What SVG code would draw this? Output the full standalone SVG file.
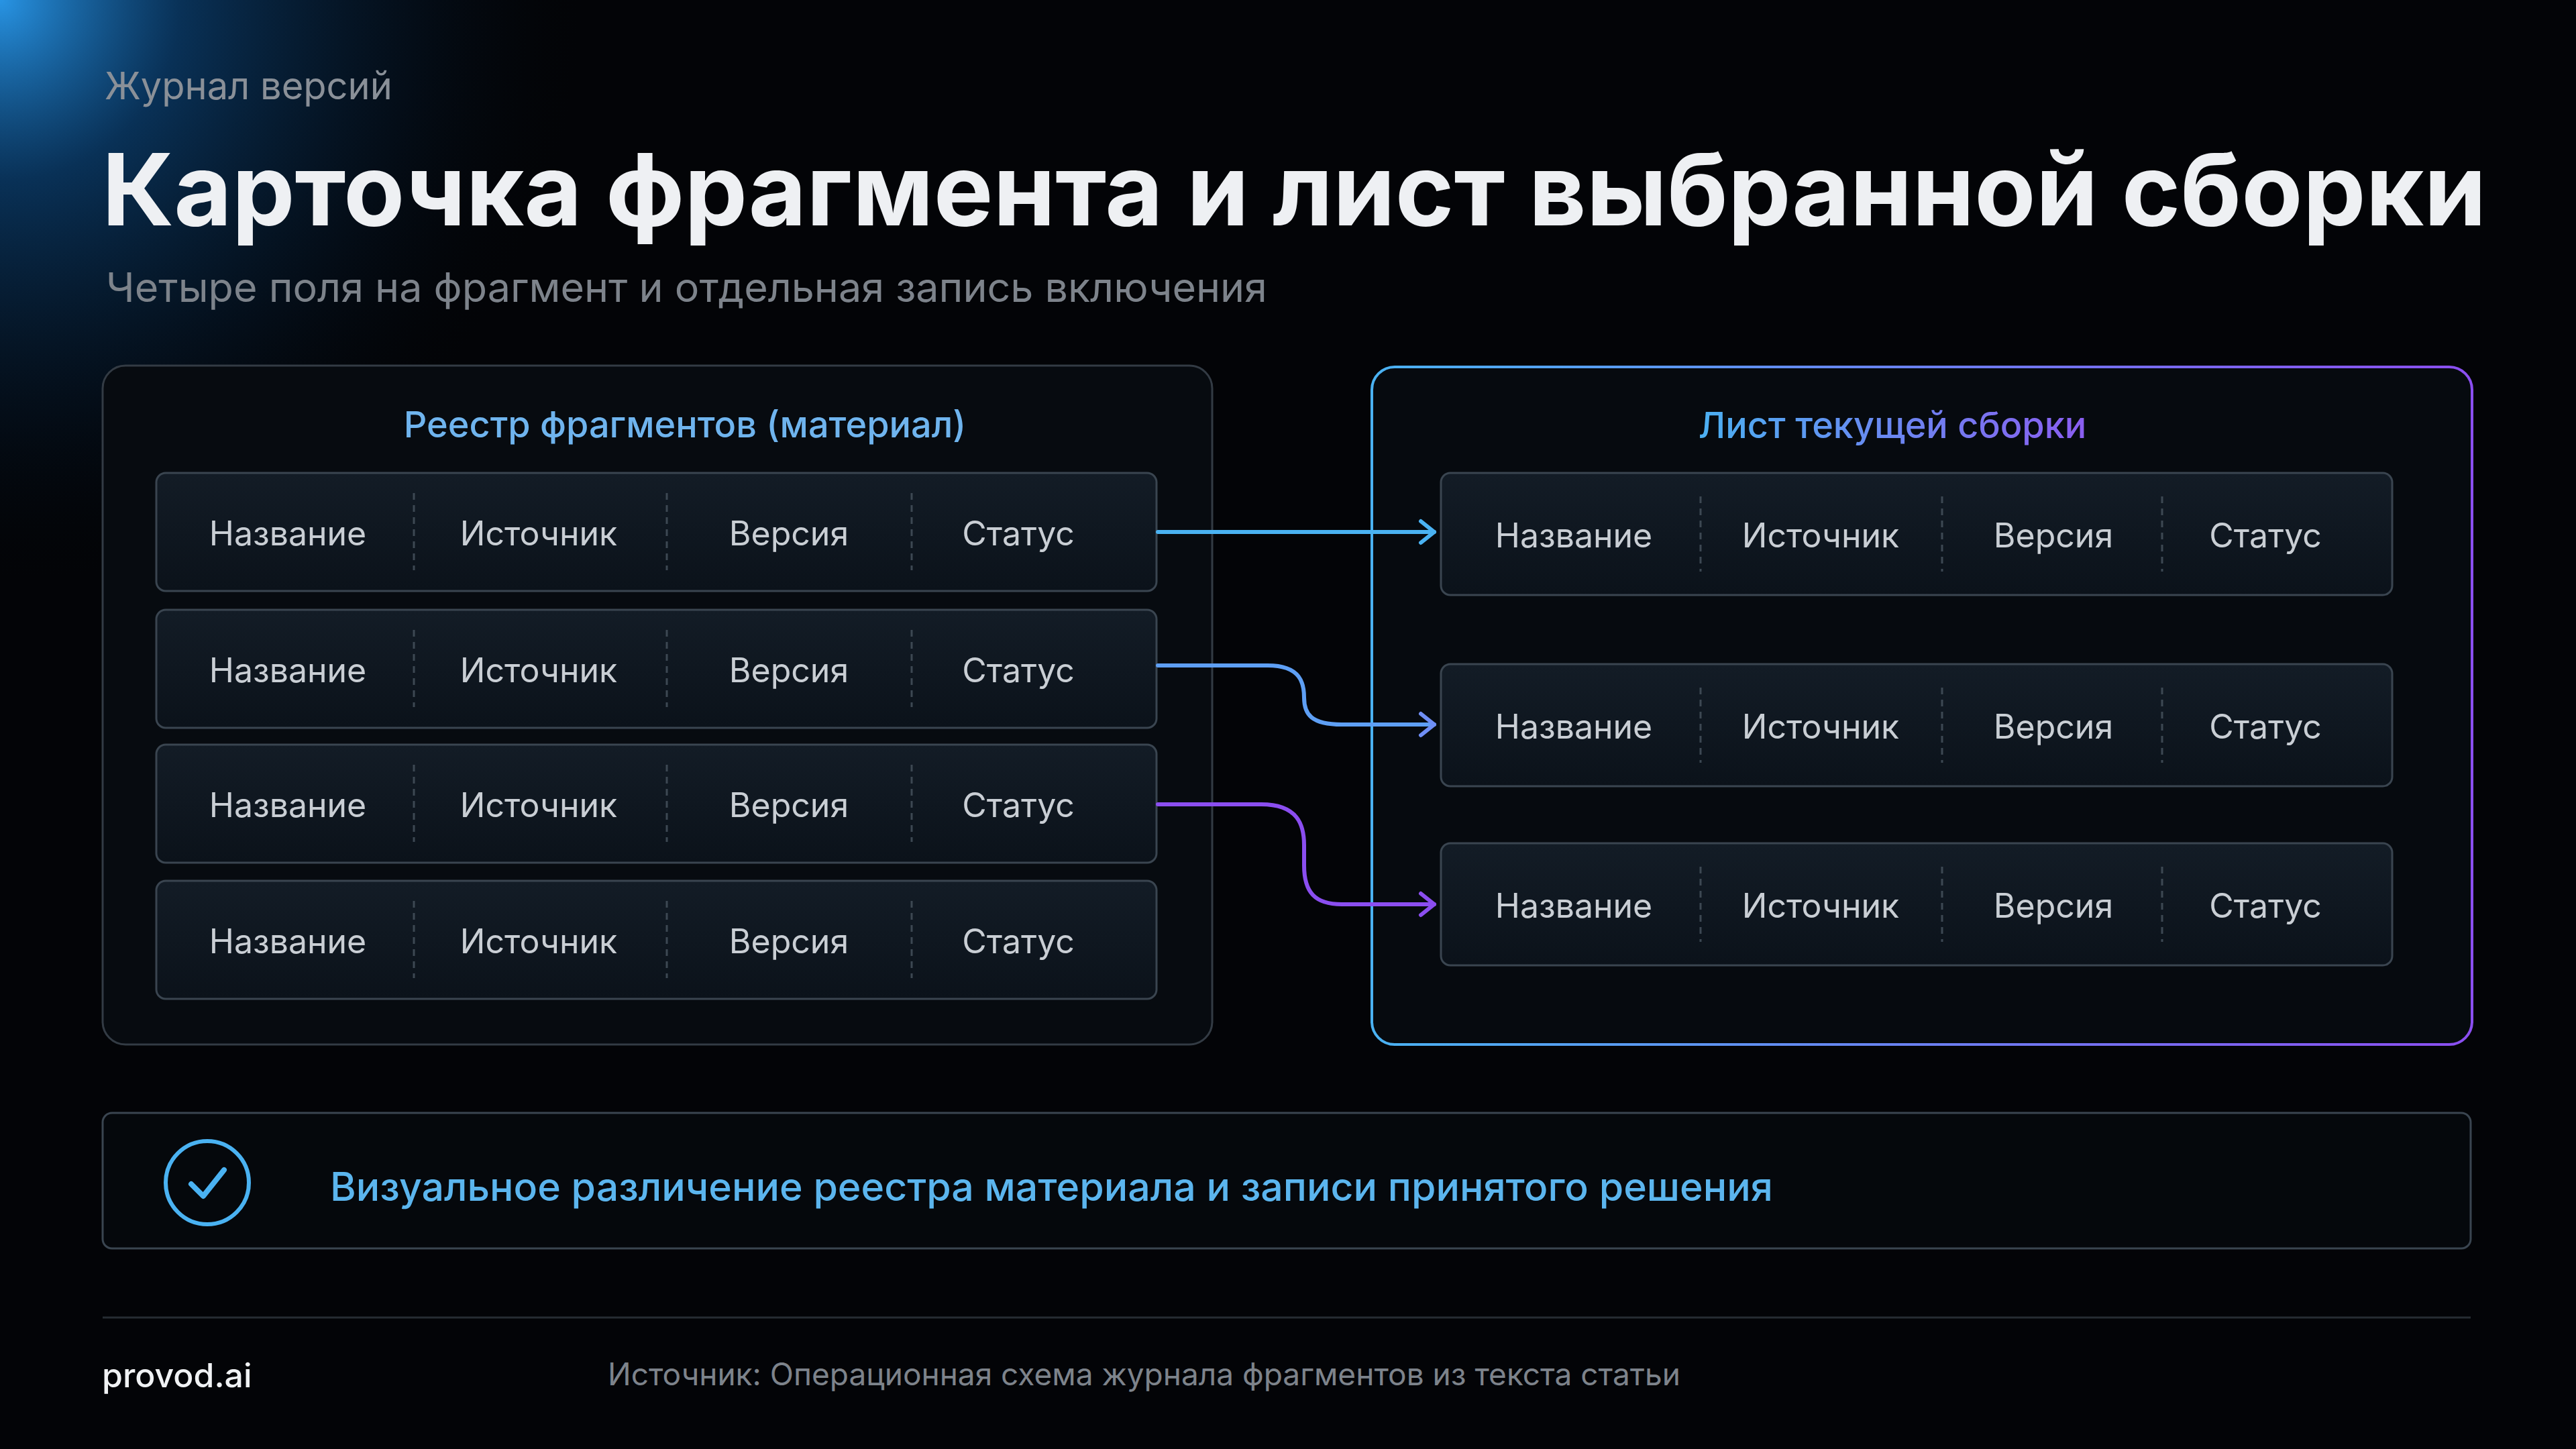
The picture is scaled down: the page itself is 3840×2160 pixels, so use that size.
<svg xmlns="http://www.w3.org/2000/svg" width="3840" height="2160" viewBox="0 0 3840 2160">
<defs>
<radialGradient id="glow" cx="0" cy="0" r="900" gradientUnits="userSpaceOnUse">
<stop offset="0" stop-color="#2a9cf0" stop-opacity="0.95"/>
<stop offset="0.3" stop-color="#0d4f8c" stop-opacity="0.6"/>
<stop offset="0.7" stop-color="#06203a" stop-opacity="0.3"/>
<stop offset="1" stop-color="#000" stop-opacity="0"/>
</radialGradient>
<linearGradient id="rborder" x1="2045" y1="0" x2="3686" y2="0" gradientUnits="userSpaceOnUse">
<stop offset="0" stop-color="#4ab2f2"/><stop offset="1" stop-color="#8b4ef0"/>
</linearGradient>
<linearGradient id="rtitle" x1="2520" y1="0" x2="3120" y2="0" gradientUnits="userSpaceOnUse">
<stop offset="0" stop-color="#4ab2f2"/><stop offset="1" stop-color="#8b5cf0"/>
</linearGradient>
<linearGradient id="rowfill" x1="0" y1="0" x2="0" y2="1">
<stop offset="0" stop-color="#131c26"/><stop offset="1" stop-color="#0b121a"/>
</linearGradient>
<marker id="a1" viewBox="0 0 30 40" refX="26" refY="20" markerWidth="30" markerHeight="40" markerUnits="userSpaceOnUse" orient="auto"><path d="M6 4 L26 20 L6 36" fill="none" stroke="#4ab2f2" stroke-width="6" stroke-linecap="round" stroke-linejoin="round"/></marker>
<marker id="a2" viewBox="0 0 30 40" refX="26" refY="20" markerWidth="30" markerHeight="40" markerUnits="userSpaceOnUse" orient="auto"><path d="M6 4 L26 20 L6 36" fill="none" stroke="#6f8ef5" stroke-width="6" stroke-linecap="round" stroke-linejoin="round"/></marker>
<marker id="a3" viewBox="0 0 30 40" refX="26" refY="20" markerWidth="30" markerHeight="40" markerUnits="userSpaceOnUse" orient="auto"><path d="M6 4 L26 20 L6 36" fill="none" stroke="#8b4ef0" stroke-width="6" stroke-linecap="round" stroke-linejoin="round"/></marker>
</defs>
<style>
.row{fill:url(#rowfill);stroke:#3a4550;stroke-width:3}
.cell{font-family:Inter,"Liberation Sans",sans-serif;font-size:50px;fill:#c9ced4;text-anchor:middle;dominant-baseline:central}
.div{stroke:#3d4853;stroke-width:3;stroke-dasharray:10 8}
.hdr{font-family:Inter,"Liberation Sans",sans-serif;font-size:54px;font-weight:500;text-anchor:middle}
</style>
<rect width="3840" height="2160" fill="#030407"/>
<rect width="3840" height="2160" fill="url(#glow)"/>
<text x="156" y="148" font-family="Inter,'Liberation Sans',sans-serif" font-size="56" fill="#8a9098">Журнал версий</text>
<text x="152" y="336" font-family="Inter,'Liberation Sans',sans-serif" font-size="149" font-weight="700" fill="#eef0f3">Карточка фрагмента и лист выбранной сборки</text>
<text x="158" y="450" font-family="Inter,'Liberation Sans',sans-serif" font-size="61" fill="#7d838b">Четыре поля на фрагмент и отдельная запись включения</text>

<g id="left-panel">
<rect x="153" y="545" width="1654" height="1012" rx="34" fill="#070b10" stroke="#333b44" stroke-width="3"/>
<text class="hdr" x="1021" y="632" dominant-baseline="central" fill="#6fb4ee">Реестр фрагментов (материал)</text>
</g>
<g id="right-panel">
<rect x="2045" y="547" width="1640" height="1010" rx="34" fill="#060a0f" stroke="url(#rborder)" stroke-width="4"/>
<text class="hdr" x="2821" y="633" dominant-baseline="central" fill="url(#rtitle)">Лист текущей сборки</text>
</g>

<g id="l1"><rect class="row" x="233" y="705" width="1491" height="176" rx="14"/>
<line class="div" x1="617" y1="735" x2="617" y2="850"/><line class="div" x1="994" y1="735" x2="994" y2="850"/><line class="div" x1="1359" y1="735" x2="1359" y2="850"/>
<text class="cell" x="429" y="795">Название</text><text class="cell" x="803" y="795">Источник</text><text class="cell" x="1176" y="795">Версия</text><text class="cell" x="1518" y="795">Статус</text></g>
<g id="l2"><rect class="row" x="233" y="909" width="1491" height="176" rx="14"/>
<line class="div" x1="617" y1="939" x2="617" y2="1054"/><line class="div" x1="994" y1="939" x2="994" y2="1054"/><line class="div" x1="1359" y1="939" x2="1359" y2="1054"/>
<text class="cell" x="429" y="999">Название</text><text class="cell" x="803" y="999">Источник</text><text class="cell" x="1176" y="999">Версия</text><text class="cell" x="1518" y="999">Статус</text></g>
<g id="l3"><rect class="row" x="233" y="1110" width="1491" height="176" rx="14"/>
<line class="div" x1="617" y1="1140" x2="617" y2="1255"/><line class="div" x1="994" y1="1140" x2="994" y2="1255"/><line class="div" x1="1359" y1="1140" x2="1359" y2="1255"/>
<text class="cell" x="429" y="1200">Название</text><text class="cell" x="803" y="1200">Источник</text><text class="cell" x="1176" y="1200">Версия</text><text class="cell" x="1518" y="1200">Статус</text></g>
<g id="l4"><rect class="row" x="233" y="1313" width="1491" height="176" rx="14"/>
<line class="div" x1="617" y1="1343" x2="617" y2="1458"/><line class="div" x1="994" y1="1343" x2="994" y2="1458"/><line class="div" x1="1359" y1="1343" x2="1359" y2="1458"/>
<text class="cell" x="429" y="1403">Название</text><text class="cell" x="803" y="1403">Источник</text><text class="cell" x="1176" y="1403">Версия</text><text class="cell" x="1518" y="1403">Статус</text></g>

<g id="r1"><rect class="row" x="2148" y="705" width="1418" height="182" rx="14"/>
<line class="div" x1="2535" y1="740" x2="2535" y2="852"/><line class="div" x1="2895" y1="740" x2="2895" y2="852"/><line class="div" x1="3223" y1="740" x2="3223" y2="852"/>
<text class="cell" x="2346" y="798">Название</text><text class="cell" x="2714" y="798">Источник</text><text class="cell" x="3061" y="798">Версия</text><text class="cell" x="3377" y="798">Статус</text></g>
<g id="r2"><rect class="row" x="2148" y="990" width="1418" height="182" rx="14"/>
<line class="div" x1="2535" y1="1025" x2="2535" y2="1137"/><line class="div" x1="2895" y1="1025" x2="2895" y2="1137"/><line class="div" x1="3223" y1="1025" x2="3223" y2="1137"/>
<text class="cell" x="2346" y="1083">Название</text><text class="cell" x="2714" y="1083">Источник</text><text class="cell" x="3061" y="1083">Версия</text><text class="cell" x="3377" y="1083">Статус</text></g>
<g id="r3"><rect class="row" x="2148" y="1257" width="1418" height="182" rx="14"/>
<line class="div" x1="2535" y1="1292" x2="2535" y2="1404"/><line class="div" x1="2895" y1="1292" x2="2895" y2="1404"/><line class="div" x1="3223" y1="1292" x2="3223" y2="1404"/>
<text class="cell" x="2346" y="1350">Название</text><text class="cell" x="2714" y="1350">Источник</text><text class="cell" x="3061" y="1350">Версия</text><text class="cell" x="3377" y="1350">Статус</text></g>

<g id="connectors" fill="none" stroke-width="6" stroke-linecap="round">
<path d="M1726 793 H2138" stroke="#4ab2f2" marker-end="url(#a1)"/>
<path d="M1726 992 H1890 C1940 992 1944 1020 1944 1040 C1944 1065 1955 1080 2000 1080 H2138" stroke="#5e9ff4" marker-end="url(#a2)"/>
<path d="M1726 1199 H1880 C1935 1199 1944 1230 1944 1260 V1290 C1944 1330 1960 1348 2000 1348 H2138" stroke="#8b4ef0" marker-end="url(#a3)"/>
</g>

<g id="note">
<rect x="153" y="1659" width="3530" height="202" rx="14" fill="#05080c" stroke="#3a4550" stroke-width="3"/>
<circle cx="309" cy="1763" r="62" fill="none" stroke="#4ab2f2" stroke-width="6"/>
<path d="M285 1765 L303 1783 L334 1744" fill="none" stroke="#4ab2f2" stroke-width="8" stroke-linecap="round" stroke-linejoin="round"/>
<text x="492" y="1768" dominant-baseline="central" font-family="Inter,'Liberation Sans',sans-serif" font-size="59" font-weight="500" fill="#5bb5ee">Визуальное различение реестра материала и записи принятого решения</text>
</g>
<line x1="153" y1="1964" x2="3683" y2="1964" stroke="#262c33" stroke-width="3"/>
<text x="152" y="2050" dominant-baseline="central" font-family="Inter,'Liberation Sans',sans-serif" font-size="50" font-weight="500" fill="#f0f2f4">provod.ai</text>
<text x="906" y="2048" dominant-baseline="central" font-family="Inter,'Liberation Sans',sans-serif" font-size="46" fill="#7d838b">Источник: Операционная схема журнала фрагментов из текста статьи</text>
</svg>
